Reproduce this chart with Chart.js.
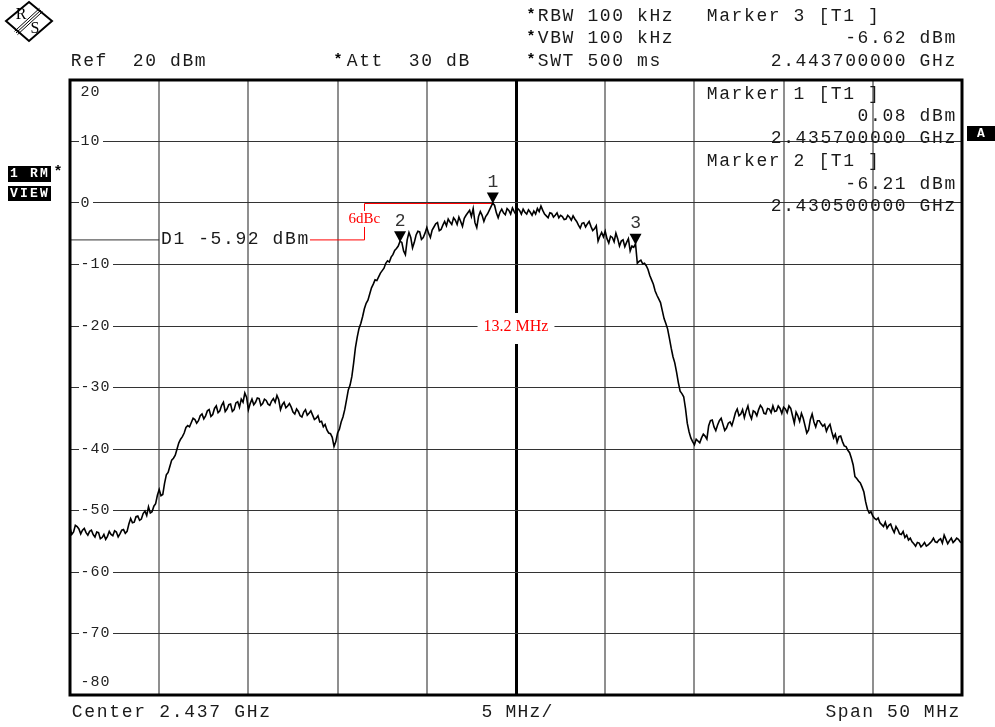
<!DOCTYPE html>
<html>
<head>
<meta charset="utf-8">
<script src="https://cdn.jsdelivr.net/npm/chart.js@4.4.0/dist/chart.umd.min.js"></script>
<style>
  html, body { margin: 0; padding: 0; background: #fff; }
  #wrap { position: relative; width: 995px; height: 727px; }
</style>
</head>
<body>
<div id="wrap"><canvas id="spectrum"></canvas></div>
<script>
// ---- sweep setup (501 points over the span) ----
const centerGHz = 2.437;
const spanMHz = 50;
const refDbm = 20;
const sweepStartMHz = -25;
const sweepStepMHz = 0.1;

// trace levels (dBm), one row per MHz
const traceDbm = [
  -52.8, -53.9, -53.5, -52.4, -52.6, -53.0, -53.8, -53.2, -52.9, -53.6,
  -54.0, -53.4, -53.2, -53.9, -54.3, -53.5, -53.6, -54.6, -54.4, -53.9,
  -54.7, -54.2, -53.4, -53.9, -54.1, -53.3, -53.5, -54.3, -53.8, -53.2,
  -53.1, -53.7, -53.4, -52.2, -51.3, -52.0, -51.9, -51.0, -50.9, -51.6,
  -51.4, -50.5, -50.1, -50.8, -49.4, -50.4, -50.2, -49.3, -48.9, -47.5,
  -46.6, -47.6, -47.4, -45.6, -44.2, -43.8, -42.8, -41.8, -41.5, -41.0,
  -40.0, -39.0, -38.4, -38.0, -37.4, -36.5, -36.2, -36.4, -35.7, -35.0,
  -35.2, -35.8, -35.4, -34.6, -34.3, -35.1, -34.6, -33.8, -33.6, -34.7,
  -34.4, -33.4, -33.0, -34.1, -33.8, -32.9, -32.4, -33.9, -33.5, -32.8,
  -32.7, -33.9, -33.6, -32.5, -32.3, -33.2, -31.9, -32.4, -30.9, -31.6,
  -33.6, -32.6, -31.9, -32.8, -32.4, -31.7, -31.8, -32.9, -32.6, -31.9,
  -32.1, -32.7, -32.9, -32.2, -31.8, -32.4, -31.3, -32.0, -33.6, -32.8,
  -32.4, -33.3, -33.0, -32.6, -33.2, -34.0, -34.3, -33.5, -33.9, -34.6,
  -34.8, -34.0, -33.6, -34.5, -34.2, -33.8, -34.5, -35.2, -35.0, -34.6,
  -35.6, -35.5, -36.4, -36.0, -36.9, -37.4, -37.5, -38.1, -39.6, -38.8,
  -37.4, -36.8, -35.6, -34.8, -33.6, -32.0, -30.4, -29.6, -28.2, -26.0,
  -23.5, -21.8, -20.4, -19.6, -18.5, -17.2, -16.3, -15.8, -14.8, -13.8,
  -13.2, -12.5, -12.6, -12.0, -11.4, -11.0, -10.6, -9.8, -9.4, -9.6,
  -8.8, -8.4, -7.7, -7.4, -7.0, -6.2, -6.4, -7.8, -8.4, -6.0,
  -4.8, -5.6, -7.3, -6.4, -5.2, -4.6, -4.7, -5.9, -5.6, -4.9,
  -4.0, -4.9, -5.6, -4.4, -3.9, -3.4, -3.2, -4.5, -4.3, -3.6,
  -3.0, -3.7, -2.6, -3.1, -3.5, -2.4, -2.8, -3.5, -2.3, -3.0,
  -3.8, -2.5, -2.0, -1.6, -1.2, -2.2, -0.9, -3.2, -4.0, -2.2,
  -1.4, -2.0, -3.0, -2.2, -1.8, -1.2, -0.6, 0.0, -0.4, -1.6,
  -2.4, -1.5, -1.0, -1.6, -1.9, -0.9, -1.2, -1.8, -0.8, -1.4,
  -1.9, -0.9, -1.2, -1.8, -1.0, -1.5, -1.8, -1.1, -1.5, -2.0,
  -1.3, -1.8, -0.9, -1.4, -0.5, -1.2, -1.8, -2.1, -2.4, -1.6,
  -1.7, -2.3, -2.0, -1.6, -2.4, -2.0, -2.2, -2.7, -2.6, -2.0,
  -2.3, -2.8, -2.1, -2.6, -3.0, -3.6, -4.1, -3.3, -3.2, -3.9,
  -3.4, -3.0, -3.8, -4.5, -4.2, -3.7, -6.2, -5.4, -4.8, -5.5,
  -4.6, -5.8, -6.5, -5.4, -5.6, -6.3, -4.9, -5.8, -7.0, -6.2,
  -6.0, -7.1, -6.4, -5.8, -7.8, -7.0, -7.2, -6.6, -9.8, -9.5,
  -9.3, -9.9, -9.8, -10.2, -10.8, -11.8, -12.5, -13.2, -14.3, -15.0,
  -15.6, -16.2, -17.5, -18.8, -19.6, -20.5, -22.0, -23.6, -25.0, -26.0,
  -27.5, -29.2, -30.6, -31.0, -31.5, -33.4, -35.8, -37.2, -38.2, -38.8,
  -39.3, -38.4, -38.7, -39.0, -38.2, -37.6, -37.9, -38.4, -36.2, -35.4,
  -35.3, -36.4, -37.0, -36.1, -35.4, -35.0, -36.0, -37.0, -36.6, -35.8,
  -35.6, -36.2, -35.2, -34.1, -33.5, -34.6, -34.3, -33.6, -34.9, -33.8,
  -33.0, -34.4, -35.1, -33.8, -34.0, -34.6, -33.6, -32.9, -33.3, -34.2,
  -34.3, -33.4, -33.5, -34.1, -33.0, -33.9, -33.8, -33.0, -33.4, -34.2,
  -33.2, -33.5, -34.1, -33.0, -33.4, -34.6, -35.8, -34.0, -34.6, -35.5,
  -34.2, -35.0, -36.2, -37.4, -36.9, -35.2, -34.3, -35.6, -36.4, -35.4,
  -35.4, -35.9, -36.3, -36.0, -37.1, -36.4, -36.0, -37.2, -38.2, -37.6,
  -38.9, -38.0, -37.9, -38.8, -39.5, -39.6, -40.2, -40.6, -41.5, -42.6,
  -44.5, -44.8, -45.2, -45.5, -46.2, -47.0, -48.6, -49.8, -50.4, -50.2,
  -50.9, -51.3, -51.5, -51.2, -52.0, -52.3, -52.6, -51.9, -52.9, -52.4,
  -52.2, -53.0, -53.6, -52.6, -53.1, -53.8, -53.9, -53.4, -54.4, -54.0,
  -54.8, -54.5, -55.1, -55.4, -55.8, -55.2, -55.3, -55.9, -55.6, -55.2,
  -55.8, -55.6, -55.3, -55.0, -54.5, -55.1, -55.2, -54.8, -54.6, -55.3,
  -54.0, -54.7, -55.4, -54.9, -54.5, -55.2, -54.9, -54.5, -54.7, -55.1,
  -55.3
];

const levelTicks = [20, 10, 0, -10, -20, -30, -40, -50, -60, -70, -80];

// markers
const markerIds = ['1', '2', '3'];
const markerMHz = [-1.3, -6.5, 6.7];
const markerDbm = [0.08, -6.21, -6.62];
const displayLineDbm = -5.92;

const FONT_MONO = '"Liberation Mono", "DejaVu Sans Mono", monospace';
const FONT_SERIF = '"Liberation Serif", "DejaVu Serif", serif';
const TXT = '#1a1a1a';
const HSIZE = 18;   // header font size
const ADV = 12.4;   // character pitch of the analyser font

// fixed pitch text, like the analyser's bitmap font
function mono(ctx, s, x, y, adv, size, color, bold) {
  ctx.save();
  ctx.font = (bold ? 'bold ' : '') + size + 'px ' + FONT_MONO;
  ctx.fillStyle = color || TXT;
  ctx.textAlign = 'center';
  ctx.textBaseline = 'middle';
  for (let i = 0; i < s.length; i++) {
    if (s[i] !== ' ') ctx.fillText(s[i], x + i * adv + adv / 2, y);
  }
  ctx.restore();
}
function monoRight(ctx, s, right, y, adv, size) {
  mono(ctx, s, right - s.length * adv, y, adv, size);
}
function freqText(mhz) {
  return ((centerGHz * 1000 + mhz) / 1000).toFixed(9) + ' GHz';
}
function dbmText(v) {
  return v.toFixed(2) + ' dBm';
}

const points = traceDbm.map((v, i) => ({ x: sweepStartMHz + i * sweepStepMHz, y: v }));

// grid labels + red annotations, under the trace
const underlay = {
  id: 'underlay',
  beforeDatasetsDraw(chart) {
    const { ctx, chartArea: a, scales: { x, y } } = chart;
    ctx.save();
    // level labels sit inside the screen, cutting the grid lines
    levelTicks.forEach((v, i) => {
      let py = y.getPixelForValue(v);
      if (i === 0) py += 12;
      if (i === levelTicks.length - 1) py -= 13;
      const s = String(v);
      const x0 = a.left + 10;
      ctx.fillStyle = '#fff';
      ctx.fillRect(x0 - 1, py - 7, s.length * 10 + 4, 14);
      mono(ctx, s, x0, py, 10, 15, '#222');
    });

    // display line D1
    const yD1 = y.getPixelForValue(displayLineDbm);
    const xTxt = x.getPixelForValue(-20);
    ctx.strokeStyle = '#333';
    ctx.lineWidth = 1;
    ctx.beginPath();
    ctx.moveTo(a.left, yD1 + 0.5);
    ctx.lineTo(xTxt, yD1 + 0.5);
    ctx.stroke();
    const d1 = 'D1 ' + displayLineDbm.toFixed(2) + ' dBm';
    mono(ctx, d1, xTxt + 1, yD1, ADV, HSIZE);

    // n dB down bracket
    const xEnd = xTxt + 2 + d1.length * ADV;
    const xBr = x.getPixelForValue(-8.5);
    const yM1 = y.getPixelForValue(markerDbm[0]);
    const xM1 = x.getPixelForValue(markerMHz[0]);
    ctx.strokeStyle = '#ff0000';
    ctx.beginPath();
    ctx.moveTo(xEnd, yD1 + 0.5);
    ctx.lineTo(Math.round(xBr) + 0.5, yD1 + 0.5);
    ctx.lineTo(Math.round(xBr) + 0.5, Math.round(yM1) + 0.5);
    ctx.lineTo(xM1, Math.round(yM1) + 0.5);
    ctx.stroke();
    ctx.font = '15px ' + FONT_SERIF;
    ctx.textAlign = 'center';
    ctx.textBaseline = 'middle';
    const lblY = (yD1 + yM1) / 2 - 2;
    const w6 = ctx.measureText('6dBc').width;
    ctx.fillStyle = '#fff';
    ctx.fillRect(xBr - w6 / 2 - 2, lblY - 8, w6 + 4, 16);
    ctx.fillStyle = '#ff0000';
    ctx.fillText('6dBc', xBr, lblY);

    // occupied bandwidth between markers 2 and 3
    const bw = (markerMHz[2] - markerMHz[1]).toFixed(1) + ' MHz';
    const xc = x.getPixelForValue(0);
    const yc = y.getPixelForValue(-20);
    ctx.font = '16px ' + FONT_SERIF;
    const wb = ctx.measureText(bw).width;
    ctx.fillStyle = '#fff';
    ctx.fillRect(xc - wb / 2 - 6, yc - 13, wb + 12, 31);
    ctx.fillStyle = '#ff0000';
    ctx.fillText(bw, xc, yc + 1);
    ctx.restore();
  },
  afterDatasetsDraw(chart) {
    const { ctx, chartArea: a, scales: { x, y } } = chart;
    ctx.save();
    // marker triangles
    markerIds.forEach((id, i) => {
      const px = x.getPixelForValue(markerMHz[i]);
      const py = y.getPixelForValue(markerDbm[i]);
      ctx.fillStyle = '#000';
      ctx.beginPath();
      ctx.moveTo(px - 6, py - 10);
      ctx.lineTo(px + 6, py - 10);
      ctx.lineTo(px, py + 1);
      ctx.closePath();
      ctx.fill();
      mono(ctx, id, px - 6, py - 20, 12, HSIZE, '#333');
    });
    // marker readout in the screen
    mono(ctx, 'Marker 1 [T1 ]', 706, 94, ADV, HSIZE);
    monoRight(ctx, dbmText(markerDbm[0]), 956, 116, ADV, HSIZE);
    monoRight(ctx, freqText(markerMHz[0]), 956, 138, ADV, HSIZE);
    mono(ctx, 'Marker 2 [T1 ]', 706, 161, ADV, HSIZE);
    monoRight(ctx, dbmText(markerDbm[1]), 956, 184, ADV, HSIZE);
    monoRight(ctx, freqText(markerMHz[1]), 956, 206, ADV, HSIZE);

    // screen frame
    ctx.strokeStyle = '#000';
    ctx.lineWidth = 3;
    ctx.strokeRect(a.left, a.top, a.right - a.left, a.bottom - a.top);
    ctx.restore();
  },
  afterDraw(chart) {
    const { ctx } = chart;
    ctx.save();
    // R&S logo
    ctx.strokeStyle = '#000';
    ctx.lineWidth = 2;
    ctx.beginPath();
    ctx.moveTo(29, 2); ctx.lineTo(52, 21); ctx.lineTo(29, 41); ctx.lineTo(6, 21);
    ctx.closePath();
    ctx.stroke();
    ctx.lineWidth = 1;
    [-2.2, 0, 2.2].forEach(d => {
      ctx.beginPath();
      ctx.moveTo(16 + d * 0.68, 33 + d * 0.74);
      ctx.lineTo(41 + d * 0.68, 10 + d * 0.74);
      ctx.stroke();
    });
    ctx.fillStyle = '#000';
    ctx.font = '16px ' + FONT_SERIF;
    ctx.textAlign = 'center';
    ctx.textBaseline = 'middle';
    ctx.fillText('R', 21, 15);
    ctx.fillText('S', 35, 29);

    // header
    mono(ctx, '*', 527, 15, 8, 15, '#000', true);
    mono(ctx, 'RBW 100 kHz', 537, 16, ADV, HSIZE);
    mono(ctx, 'Marker 3 [T1 ]', 706, 16, ADV, HSIZE);
    mono(ctx, '*', 527, 37, 8, 15, '#000', true);
    mono(ctx, 'VBW 100 kHz', 537, 38, ADV, HSIZE);
    monoRight(ctx, dbmText(markerDbm[2]), 956, 38, ADV, HSIZE);
    mono(ctx, 'Ref  ' + refDbm + ' dBm', 70, 61, ADV, HSIZE);
    mono(ctx, '*', 334, 60, 8, 15, '#000', true);
    mono(ctx, 'Att  30 dB', 346, 61, ADV, HSIZE);
    mono(ctx, '*', 527, 60, 8, 15, '#000', true);
    mono(ctx, 'SWT 500 ms', 537, 61, ADV, HSIZE);
    monoRight(ctx, freqText(markerMHz[2]), 956, 61, ADV, HSIZE);

    // footer
    mono(ctx, 'Center ' + centerGHz + ' GHz', 71, 712, 12.5, HSIZE);
    mono(ctx, (spanMHz / 10) + ' MHz/', 481, 712, 12, HSIZE);
    monoRight(ctx, 'Span ' + spanMHz + ' MHz', 960, 712, 12.3, HSIZE);

    // side badges
    ctx.fillStyle = '#000';
    ctx.fillRect(8, 166, 43, 16);
    ctx.fillRect(8, 186, 43, 15);
    ctx.fillRect(967, 126, 28, 15);
    mono(ctx, '1 RM', 9, 174, 10, 13, '#fff', true);
    mono(ctx, 'VIEW', 9, 193.5, 10, 13, '#fff', true);
    mono(ctx, 'A', 975, 133.5, 12, 13, '#fff', true);
    mono(ctx, '*', 54, 172, 8, 15, '#000', true);
    ctx.restore();
  }
};

new Chart(document.getElementById('spectrum'), {
  type: 'line',
  data: {
    datasets: [{
      data: points,
      borderColor: '#000',
      borderWidth: 1.6,
      pointRadius: 0,
      tension: 0,
      fill: false
    }]
  },
  options: {
    responsive: true,
    maintainAspectRatio: false,
    animation: false,
    events: [],
    layout: { padding: { left: 70, top: 80, right: 33, bottom: 32 } },
    plugins: { legend: { display: false }, tooltip: { enabled: false } },
    scales: {
      x: {
        type: 'linear',
        min: -spanMHz / 2,
        max: spanMHz / 2,
        ticks: { display: false, stepSize: spanMHz / 10 },
        border: { display: false },
        grid: {
          drawTicks: false,
          color: c => (c.tick && c.tick.value === 0 ? '#000' : '#8f8f8f'),
          lineWidth: c => (c.tick && c.tick.value === 0 ? 3 : 2)
        }
      },
      y: {
        min: refDbm - 100,
        max: refDbm,
        ticks: { display: false, stepSize: 10 },
        border: { display: false },
        grid: { drawTicks: false, color: '#333', lineWidth: 1 }
      }
    }
  },
  plugins: [underlay]
});
</script>
</body>
</html>
